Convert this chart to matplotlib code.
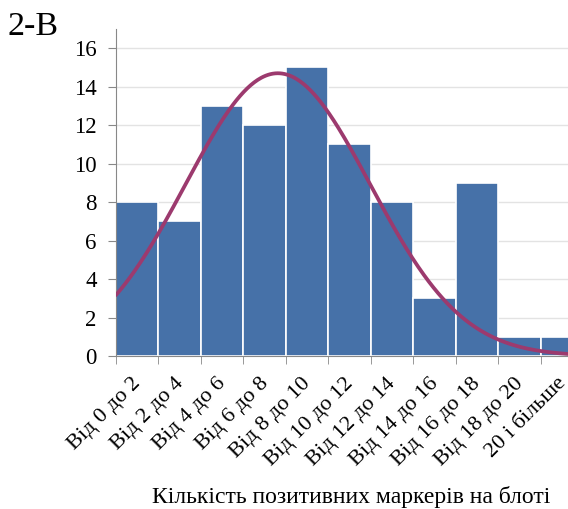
import numpy as np
import matplotlib.pyplot as plt
import matplotlib.transforms as mtransforms

plt.rcParams['font.family'] = ['Liberation Serif', 'DejaVu Serif']

# histogram data
categories = ['Від 0 до 2', 'Від 2 до 4', 'Від 4 до 6', 'Від 6 до 8',
              'Від 8 до 10', 'Від 10 до 12', 'Від 12 до 14', 'Від 14 до 16',
              'Від 16 до 18', 'Від 18 до 20', '20 і більше']
counts = [8, 7, 13, 12, 15, 11, 8, 3, 9, 1, 1]

# fitted normal curve (in markers)
curve_mean = 7.62
curve_sd = 4.35
curve_peak = 14.7
bin_width = 2

fig = plt.figure(figsize=(5.68, 5.09), dpi=100)
ax = fig.add_axes([0.2042, 0.3006, 0.7958, 0.6424])

pos = np.arange(len(categories))
ax.bar(pos, counts, width=1.0, color='#4671a8', edgecolor='white',
       linewidth=1.2, zorder=2)

xv = np.linspace(0, 22, 400)
yv = curve_peak * np.exp(-(xv - curve_mean) ** 2 / (2 * curve_sd ** 2))
ax.plot(xv / bin_width - 0.5, yv, color='#9c3a6e', lw=2.7, zorder=3,
        solid_capstyle='round')

ax.set_yticks(range(0, 17, 2))
ax.tick_params(axis='y', labelsize=16.5, length=6, color='#888888', pad=8)
ax.yaxis.grid(True, color='#e3e3e3', lw=1, zorder=0)
ax.set_axisbelow(True)

ax.set_xticks(pos)
ax.set_xticklabels(categories, rotation=45, ha='right',
                   rotation_mode='anchor', fontsize=16)
ax.tick_params(axis='x', length=0, pad=13)
ax.set_xticks(np.arange(-0.5, 10, 1), minor=True)
ax.tick_params(axis='x', which='minor', length=6, color='#888888')

ax.set_xlim(-0.5, 10.14)
ax.set_ylim(0, 17)

# nudge rotated labels a little to the left
shift = mtransforms.ScaledTranslation(-6 / 100, 0, fig.dpi_scale_trans)
for lbl in ax.get_xticklabels():
    lbl.set_transform(lbl.get_transform() + shift)

for s in ['top', 'right']:
    ax.spines[s].set_visible(False)
ax.spines['left'].set_color('#888888')
ax.spines['bottom'].set_color('#888888')

fig.text(0.014, 0.978, '2-В', fontsize=24.5, va='top', ha='left')
fig.text(0.618, 0.024, 'Кількість позитивних маркерів на блоті',
         fontsize=17, ha='center', va='center')

fig.savefig('out.png', dpi=100)
